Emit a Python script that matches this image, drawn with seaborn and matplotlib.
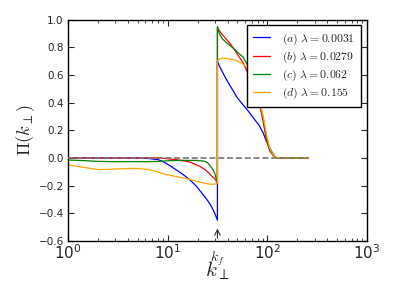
import matplotlib

matplotlib.use("Agg")
import matplotlib.pyplot as plt
import numpy as np
import pandas as pd
import seaborn as sns

# --- Data (k_perp on log axis, jump at k_f) ---
K_F = 31.6

k_pre = [1, 1.5, 2, 3, 4.5, 6.2, 8, 9, 10.5, 12.3, 14.3, 16.7, 19.5, 21,
         23.7, 25.6, 27.6, 29.7, K_F]
k_post = [K_F, 33, 35, 38, 42, 46, 50, 57, 65, 75, 83, 91, 98, 106, 114,
          120, 125, 150, 200, 256]

pi_a_pre = [0, 0, 0, 0, 0, -0.003, -0.012, -0.027, -0.055, -0.088, -0.12,
            -0.158, -0.205, -0.235, -0.282, -0.315, -0.352, -0.40, -0.45]
pi_a_post = [0.70, 0.665, 0.63, 0.58, 0.525, 0.48, 0.435, 0.385, 0.335,
             0.275, 0.235, 0.18, 0.12, 0.07, 0.03, 0.008, 0, 0, 0, 0]

pi_b_pre = [0, 0, 0, 0, 0, 0, 0, -0.003, -0.008, -0.013, -0.02, -0.03,
            -0.05, -0.06, -0.085, -0.105, -0.13, -0.15, -0.18]
pi_b_post = [0.94, 0.92, 0.895, 0.865, 0.83, 0.79, 0.75, 0.69, 0.60, 0.49,
             0.40, 0.26, 0.13, 0.05, 0.02, 0.005, 0, 0, 0, 0]

pi_c_pre = [-0.015, -0.02, -0.025, -0.027, -0.027, -0.027, -0.025, -0.023,
            -0.02, -0.018, -0.018, -0.018, -0.018, -0.02, -0.025, -0.04,
            -0.07, -0.11, -0.18]
pi_c_post = [0.95, 0.90, 0.865, 0.84, 0.815, 0.79, 0.765, 0.73, 0.66, 0.54,
             0.42, 0.29, 0.15, 0.06, 0.02, 0.005, 0, 0, 0, 0]

pi_d_pre = [-0.05, -0.07, -0.085, -0.08, -0.075, -0.082, -0.10, -0.115,
            -0.125, -0.135, -0.145, -0.155, -0.17, -0.175, -0.183, -0.188,
            -0.19, -0.19, -0.18]
pi_d_post = [0.70, 0.715, 0.72, 0.72, 0.715, 0.71, 0.70, 0.68, 0.64, 0.54,
             0.42, 0.30, 0.17, 0.07, 0.025, 0.007, 0, 0, 0, 0]

labels = [
    r"$(a)\ \lambda = 0.0031$",
    r"$(b)\ \lambda = 0.0279$",
    r"$(c)\ \lambda = 0.062$",
    r"$(d)\ \lambda = 0.155$",
]
colors = ["#0000ff", "#ff0000", "#008000", "#ffa500"]


def build_frame():
    rows = []
    series = [
        (pi_a_pre, pi_a_post),
        (pi_b_pre, pi_b_post),
        (pi_c_pre, pi_c_post),
        (pi_d_pre, pi_d_post),
    ]
    for label, (pre, post) in zip(labels, series):
        for k, v in zip(k_pre + k_post, pre + post):
            rows.append({"k": k, "pi": v, "case": label})
    return pd.DataFrame(rows)


def main():
    df = build_frame()

    sns.set_style("ticks")
    plt.rcParams.update({
        "font.family": ["DejaVu Sans"],
        "mathtext.fontset": "cm",
        "xtick.direction": "in",
        "ytick.direction": "in",
        "xtick.top": True,
        "ytick.right": True,
        "xtick.major.size": 4,
        "ytick.major.size": 4,
        "xtick.minor.size": 2,
        "xtick.major.width": 0.8,
        "ytick.major.width": 0.8,
        "axes.linewidth": 1.0,
        "axes.edgecolor": "black",
    })

    fig, ax = plt.subplots(figsize=(3.95, 2.96), dpi=100)
    fig.subplots_adjust(left=0.172, right=0.929, bottom=0.186, top=0.934)

    sns.lineplot(
        data=df, x="k", y="pi", hue="case", palette=colors,
        estimator=None, sort=False, linewidth=0.9, ax=ax,
    )

    # dashed zero reference across the computed k range
    ax.hlines(0, k_pre[0], k_post[-1], colors="#777777", linestyles="--",
              linewidth=1.2, zorder=5)

    ax.set_xscale("log")
    ax.set_xlim(1, 1000)
    ax.set_ylim(-0.6, 1.0)
    ax.set_yticks(np.arange(-0.6, 1.01, 0.2))
    ax.tick_params(axis="x", which="major", labelsize=11, pad=2)
    ax.tick_params(axis="y", labelsize=7.5, pad=3)

    ax.set_ylabel(r"$\Pi(k_\perp)$", fontsize=13, labelpad=1)
    ax.set_xlabel(r"$k_\perp$", fontsize=15, labelpad=-2)

    ax.annotate(
        r"$k_f$", xy=(K_F, -0.51), xytext=(K_F, -0.73),
        ha="center", va="center", fontsize=10, annotation_clip=False,
        arrowprops=dict(arrowstyle="->", color="#333333", lw=0.8,
                        shrinkA=6, shrinkB=0),
    )

    handles, lbls = ax.get_legend_handles_labels()
    leg = ax.legend(
        handles, lbls, loc="upper right", fontsize=8.5, frameon=True,
        fancybox=False, framealpha=1, edgecolor="black", handlelength=1.5,
        handletextpad=1.0, labelspacing=0.25, borderpad=0.5,
        borderaxespad=0.5,
    )
    leg.get_frame().set_linewidth(1.0)

    sns.despine(ax=ax, top=False, right=False)
    fig.savefig("out.png", dpi=100)


if __name__ == "__main__":
    main()
